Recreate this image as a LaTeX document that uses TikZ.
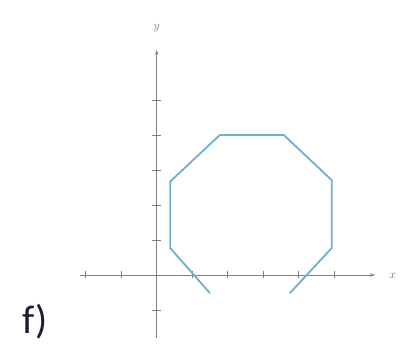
\documentclass[tikz,border=0pt]{standalone}
\usepackage{fontspec}
\newfontfamily\labelfont{Carlito}
\usetikzlibrary{arrows.meta,positioning}
\definecolor{curveblue}{RGB}{110,175,205}
\definecolor{labelnavy}{RGB}{25,30,55}
\tikzset{
  axis/.style={-{Stealth[length=5pt,width=3.5pt]}, line width=0.8pt, black!50},
  tick/.style={line width=0.8pt, black!50},
  curve/.style={line width=1.8pt, curveblue, line join=miter},
  axlabel/.style={font=\large, text=black!55, inner sep=1pt}
}
\begin{document}
\begin{tikzpicture}[x=35.5pt,y=35pt]
  \useasboundingbox (-4.414,-2.057) rectangle (7.248,7.857);
  \coordinate (xstart) at (-2.16,0);
  \coordinate (xend) at (6.15,0);
  \coordinate (ystart) at (0,-1.8);
  \coordinate (yend) at (0,6.43);
  \draw[axis] (xstart)--(xend);
  \draw[axis] (ystart)--(yend);
  \node[axlabel] (xlab) at (6.65,-0.02) {$x$};
  \node[axlabel] (ylab) at (0,7.06) {$y$};
  \foreach \x in {-2,-1,1,2,3,4,5}
    \draw[tick] (\x,-0.1)--(\x,0.1);
  \foreach \y in {-1,1,2,3,4,5}
    \draw[tick] (-0.12,\y)--(0.12,\y);
  \draw[curve] (1.5,-0.52)--(0.38,0.77)--(0.38,2.67)--(1.78,4.0)
    --(3.58,4.0)--(4.93,2.71)--(4.93,0.77)--(3.75,-0.52);
  \node[font=\labelfont\fontsize{40}{46}\selectfont, text=labelnavy] (flab) at (-3.43,-1.32) {f)};
\end{tikzpicture}
\end{document}
